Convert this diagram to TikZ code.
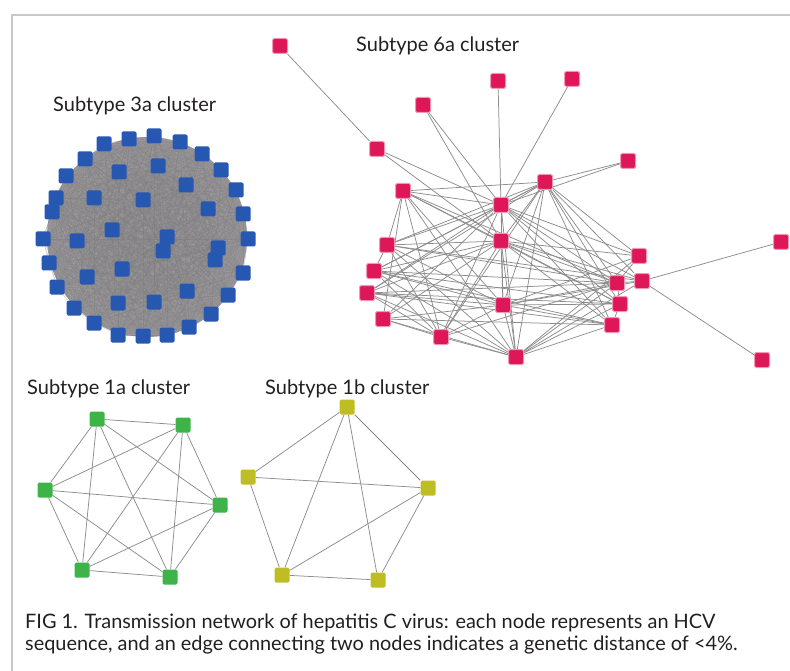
\documentclass[tikz,border=0pt]{standalone}
\usepackage{fontspec}
\setmainfont{Lato}
\usetikzlibrary{backgrounds}
\definecolor{sixacol}{RGB}{222,24,88}
\definecolor{threeacol}{RGB}{38,88,178}
\definecolor{oneacol}{RGB}{62,180,72}
\definecolor{onebcol}{RGB}{190,190,36}
\definecolor{linkgray}{RGB}{140,140,140}
\definecolor{diskgray}{RGB}{156,152,156}
\definecolor{framegray}{RGB}{200,200,200}
\definecolor{inkcol}{RGB}{35,31,32}

\begin{document}
\begin{tikzpicture}[x=1pt, y=-1pt,
  vtx/.style={rectangle, rounded corners=1.5pt, minimum size=15pt, inner sep=0pt},
  sixa/.style={vtx, fill=sixacol, draw=sixacol!45!white, line width=1pt},
  threea/.style={vtx, fill=threeacol},
  onea/.style={vtx, fill=oneacol},
  oneb/.style={vtx, fill=onebcol},
  link/.style={draw=linkgray, line width=0.75pt},
  densel/.style={draw=gray, line width=0.3pt, opacity=0.5},
  lbl/.style={font=\fontsize{20}{24}\selectfont, text=inkcol, anchor=base west, inner sep=0pt}]
  \useasboundingbox (0,0) rectangle (790,671);
  % frame
  \draw[framegray, line width=2pt] (790,15) -- (12,15) -- (12,671);

  % subtype 6a nodes
  \foreach \n/\x/\y in {1/280/46, 2/377/149, 3/423/105, 4/498/81, 5/572/79, 6/628/161,
      7/545/182, 8/403/191, 9/501/205, 10/387/245, 11/501/241, 12/374/271,
      13/367/293, 14/383/319, 15/441/337, 16/503/305, 17/516/357, 18/639/256,
      19/642/281, 20/617/283, 21/620/304, 22/612/325, 23/781/242, 24/762/360}
    \node[sixa] (six\n) at (\x,\y) {};
  % subtype 3a nodes
  \foreach \n/\x/\y in {1/104/144, 2/129/139, 3/154/136, 4/180/142, 5/202/154, 6/221/170,
      7/236/190, 8/243/214, 9/248/239, 10/243/273, 11/228/295, 12/211/314,
      13/189/327, 14/167/335, 15/143/336, 16/118/335, 17/94/323, 18/74/308,
      19/57/287, 20/49/263, 21/43/239, 22/52/212, 23/56/198, 24/66/176,
      25/85/159, 26/119/172, 27/158/166, 28/186/185, 29/94/198, 30/143/200,
      31/208/209, 32/112/230, 33/167/237, 34/163/251, 35/77/241, 36/218/248,
      37/215/260, 38/122/269, 39/87/277, 40/187/291, 41/154/302, 42/118/303}
    \node[threea] (three\n) at (\x,\y) {};
  % subtype 1a nodes
  \foreach \n/\x/\y in {1/97/419, 2/183/425, 3/45/490, 4/220/505, 5/82/570, 6/170/577}
    \node[onea] (onea\n) at (\x,\y) {};
  % subtype 1b nodes
  \foreach \n/\x/\y in {1/347/407, 2/248/477, 3/428/488, 4/282/575, 5/378/580}
    \node[oneb] (oneb\n) at (\x,\y) {};

  % labels
  \node[lbl] (lab6a) at (356,52) {Subtype 6a cluster};
  \node[lbl] (lab3a) at (53,112) {Subtype 3a cluster};
  \node[lbl] (lab1a) at (27,394) {Subtype 1a cluster};
  \node[lbl] (lab1b) at (265,394) {Subtype 1b cluster};
  \node[lbl, align=left, font=\fontsize{19.9}{21.5}\selectfont] (caption) at (25,650)
    {FIG 1. Transmission network of hepatitis C virus: each node represents an HCV\\
     sequence, and an edge connecting two nodes indicates a genetic distance of <4\%.};

  \begin{pgfonlayer}{background}
    % 6a edges
    \foreach \a/\b in {1/2, 2/9, 2/11, 3/9, 3/11, 4/9, 5/9, 6/7, 6/9, 19/23, 19/24,
        7/8, 7/9, 7/10, 7/11, 7/12, 7/13, 7/15, 7/16, 7/17, 7/18, 7/19, 7/20, 7/21, 7/22,
        8/9, 8/10, 8/11, 8/14, 8/15, 8/16, 8/17, 8/20, 8/21,
        9/10, 9/11, 9/12, 9/13, 9/14, 9/15, 9/16, 9/17, 9/18, 9/19, 9/20, 9/21, 9/22,
        10/11, 10/12, 10/15, 10/16, 10/17, 10/19, 10/20,
        11/12, 11/13, 11/14, 11/15, 11/16, 11/17, 11/18, 11/19, 11/20, 11/21, 11/22,
        12/15, 12/16, 12/17, 12/20, 12/21, 12/22,
        13/15, 13/16, 13/17, 13/20, 13/21, 13/22,
        14/15, 14/16, 14/17, 14/22, 15/16, 15/17, 15/20,
        16/17, 16/18, 16/19, 16/20, 16/21, 16/22,
        17/18, 17/19, 17/20, 17/21, 17/22, 18/20, 19/20, 20/21, 21/22}
      \draw[link] (six\a) -- (six\b);
    % 3a disk and edges
    \fill[diskgray] (147,237) circle (100);
    \foreach \i in {1,...,41} {
      \pgfmathtruncatemacro\nxt{\i+1}
      \foreach \j in {\nxt,...,42} \draw[densel] (three\i) -- (three\j);
    }
    % 1a edges, complete
    \foreach \i in {1,...,5} {
      \pgfmathtruncatemacro\nxt{\i+1}
      \foreach \j in {\nxt,...,6} \draw[link] (onea\i) -- (onea\j);
    }
    % 1b edges
    \foreach \a/\b in {1/2, 1/3, 1/4, 1/5, 2/3, 2/4, 3/4, 3/5, 4/5}
      \draw[link] (oneb\a) -- (oneb\b);
  \end{pgfonlayer}
\end{tikzpicture}
\end{document}
